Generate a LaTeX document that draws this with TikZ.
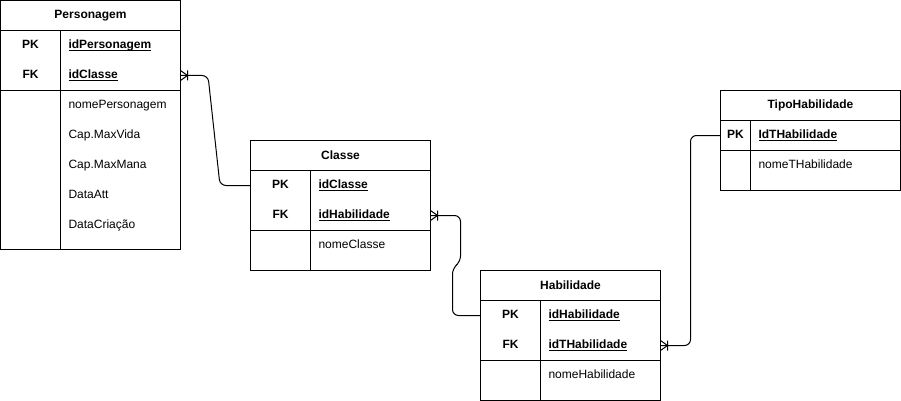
\documentclass[tikz,border=0pt]{standalone}
\usepackage{fontspec}
\setmainfont{Liberation Sans}
\usetikzlibrary{positioning}
\newcommand{\keyul}[1]{$\underline{\smash{\hbox{#1}}}$}

\begin{document}
\begin{tikzpicture}[x=1pt,y=-1pt,line width=1pt,font=\fontsize{12}{14}\selectfont,
  tbl/.style={draw,anchor=north west,inner sep=0pt,outer sep=0pt},
  head/.style={font=\fontsize{12}{14}\selectfont\bfseries},
  key/.style={font=\fontsize{12}{14}\selectfont\bfseries,text height=9pt,text depth=3pt},
  fld/.style={anchor=west,inner sep=0pt,text height=9pt,text depth=3pt},
  pkfld/.style={fld,font=\fontsize{12}{14}\selectfont\bfseries},
  conn/.style={rounded corners=6pt},
  onemany/.pic={\draw (0,-5) -- (7,0) -- (0,5) (7,-5) -- (7,5);}]
  \useasboundingbox (0,0) rectangle (901,401);

  % Personagem
  \node[tbl,minimum width=180pt,minimum height=249pt] (per) at (0.5,0.5) {};
  \draw (0.5,30.5) -- (180.5,30.5) (0.5,90.5) -- (180.5,90.5) (60.5,30.5) -- (60.5,249.5);
  \node[head] (perT) at (90.5,15.5) {Personagem};
  \node[key] (perPK) at (30.5,45.5) {PK};
  \node[key] (perFK) at (30.5,75.5) {FK};
  \node[pkfld] (perId) at (68,45.5) {\keyul{idPersonagem}};
  \node[pkfld] (perCl) at (68,75.5) {\keyul{idClasse}};
  \node[fld] (perNome) at (68,105.5) {nomePersonagem};
  \node[fld] (perVida) at (68,135.5) {Cap.MaxVida};
  \node[fld] (perMana) at (68,165.5) {Cap.MaxMana};
  \node[fld] (perAtt) at (68,195.5) {DataAtt};
  \node[fld] (perCria) at (68,225.5) {DataCriação};

  % Classe
  \node[tbl,minimum width=180pt,minimum height=130pt] (cls) at (250.5,140.5) {};
  \draw (250.5,170.5) -- (430.5,170.5) (250.5,230.5) -- (430.5,230.5) (310.5,170.5) -- (310.5,270.5);
  \node[head] (clsT) at (340.5,155.5) {Classe};
  \node[key] (clsPK) at (280.5,185.5) {PK};
  \node[key] (clsFK) at (280.5,215.5) {FK};
  \node[pkfld] (clsId) at (318,185.5) {\keyul{idClasse}};
  \node[pkfld] (clsHab) at (318,215.5) {\keyul{idHabilidade}};
  \node[fld] (clsNome) at (318,245.5) {nomeClasse};

  % Habilidade
  \node[tbl,minimum width=180pt,minimum height=130pt] (hab) at (480.5,270.5) {};
  \draw (480.5,300.5) -- (660.5,300.5) (480.5,360.5) -- (660.5,360.5) (540.5,300.5) -- (540.5,400.5);
  \node[head] (habT) at (570.5,285.5) {Habilidade};
  \node[key] (habPK) at (510.5,315.5) {PK};
  \node[key] (habFK) at (510.5,345.5) {FK};
  \node[pkfld] (habId) at (548,315.5) {\keyul{idHabilidade}};
  \node[pkfld] (habTip) at (548,345.5) {\keyul{idTHabilidade}};
  \node[fld] (habNome) at (548,375.5) {nomeHabilidade};

  % TipoHabilidade
  \node[tbl,minimum width=180pt,minimum height=100pt] (tip) at (720.5,90.5) {};
  \draw (720.5,120.5) -- (900.5,120.5) (720.5,150.5) -- (900.5,150.5) (750.5,120.5) -- (750.5,190.5);
  \node[head] (tipT) at (810.5,105.5) {TipoHabilidade};
  \node[key] (tipPK) at (735.5,135.5) {PK};
  \node[pkfld] (tipId) at (758,135.5) {\keyul{IdTHabilidade}};
  \node[fld] (tipNome) at (758,165.5) {nomeTHabilidade};

  % relacoes
  \draw[conn] (per.east |- perFK) -- (208,75.5) -- (220,185.5) -- (cls.west |- clsPK);
  \draw[conn] (cls.east |- clsFK) -- (460.5,215.5) -- (460.5,262) -- (452.5,268) -- (452.5,315.5) -- (hab.west |- habPK);
  \draw[conn] (hab.east |- habFK) -- (690.5,345.5) -- (690.5,135.5) -- (tip.west |- tipPK);
  \path (per.east |- perFK) pic {onemany}
        (cls.east |- clsFK) pic {onemany}
        (hab.east |- habFK) pic {onemany};
\end{tikzpicture}
\end{document}
